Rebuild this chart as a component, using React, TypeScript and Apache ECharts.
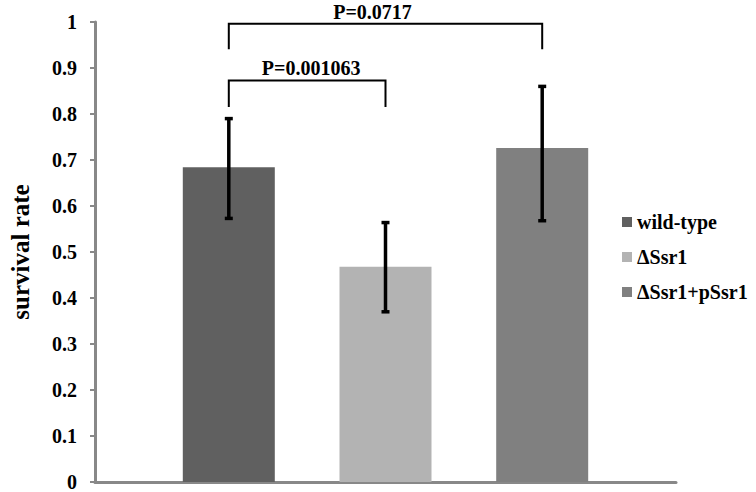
import React, { useEffect, useRef } from "react";
import * as echarts from "echarts";

const seriesNames = ["wild-type", "ΔSsr1", "ΔSsr1+pSsr1"];
const means = [0.684, 0.468, 0.726];
const errLow = [0.573, 0.37, 0.568];
const errHigh = [0.79, 0.564, 0.86];
const barColors = ["#606060", "#b3b3b3", "#808080"];
const yTicks = [0, 0.1, 0.2, 0.3, 0.4, 0.5, 0.6, 0.7, 0.8, 0.9, 1];
const pLabels = ["P=0.001063", "P=0.0717"];
const pPairs = [
  [0, 1],
  [0, 2],
];
const pLevels = [0.873, 0.996];
const pDrops = [0.815, 0.941];

const FONT = "Times New Roman, Liberation Serif, serif";
const BAR_W = 92;
const GAP = 64.7;
const STEP = BAR_W + GAP;
const LABEL_SHIFT = [4, -13];

export default function App() {
  const ref = useRef<HTMLDivElement>(null);
  useEffect(() => {
    if (!ref.current) return;
    const chart = echarts.init(ref.current, null, { renderer: "svg" });
    const barSeries = seriesNames.map((name, i) => ({
      name,
      type: "bar",
      data: [means[i]],
      barWidth: BAR_W,
      barGap: (GAP / BAR_W) * 100 + "%",
      itemStyle: { color: barColors[i] },
      z: 2,
    }));
    const errData = means.map((m, i) => [0, errLow[i], errHigh[i], i]);
    const bracketData = pPairs.map((p, k) => [0, pLevels[k], pDrops[k], p[0], p[1], k]);
    chart.setOption({
      animation: false,
      textStyle: { fontFamily: FONT },
      grid: { left: 88, right: 80, top: 22, bottom: 10, containLabel: false },
      legend: {
        data: seriesNames,
        orient: "vertical",
        left: 617,
        top: 207,
        itemWidth: 10,
        itemHeight: 10,
        itemGap: 15,
        icon: "rect",
        textStyle: { fontFamily: FONT, fontWeight: "bold", fontSize: 20, color: "#000" },
      },
      xAxis: {
        type: "category",
        data: [""],
        axisLine: { show: true, lineStyle: { color: "#888", width: 3 } },
        axisTick: { show: false },
        axisLabel: { show: false },
        splitLine: { show: false },
      },
      yAxis: {
        type: "value",
        min: yTicks[0],
        max: yTicks[yTicks.length - 1],
        interval: 0.1,
        name: "survival rate",
        nameLocation: "middle",
        nameGap: 62,
        nameTextStyle: { fontFamily: FONT, fontWeight: "bold", fontSize: 25, color: "#000" },
        axisLine: { show: true, lineStyle: { color: "#888", width: 3 } },
        axisTick: { show: true, length: 5, lineStyle: { color: "#888", width: 2 } },
        axisLabel: {
          fontFamily: FONT,
          fontWeight: "bold",
          fontSize: 20,
          color: "#000",
          margin: 18,
          formatter: (v: number) => String(Math.round(v * 10) / 10),
        },
        splitLine: { show: false },
      },
      series: [
        ...barSeries,
        {
          type: "custom",
          data: errData,
          encode: { x: 0, y: [1, 2] },
          z: 5,
          renderItem: (params: any, api: any) => {
            const lo = api.coord([api.value(0), api.value(1)]);
            const hi = api.coord([api.value(0), api.value(2)]);
            const x = lo[0] + (api.value(3) - 1) * STEP;
            const style = { stroke: "#000", lineWidth: 3.5 };
            return {
              type: "group",
              children: [
                { type: "line", shape: { x1: x, y1: lo[1], x2: x, y2: hi[1] }, style },
                { type: "line", shape: { x1: x - 4, y1: lo[1], x2: x + 4, y2: lo[1] }, style },
                { type: "line", shape: { x1: x - 4, y1: hi[1], x2: x + 4, y2: hi[1] }, style },
              ],
            };
          },
        },
        {
          type: "custom",
          data: bracketData,
          encode: { x: 0, y: [1, 2] },
          z: 6,
          renderItem: (params: any, api: any) => {
            const top = api.coord([api.value(0), api.value(1)]);
            const drop = api.coord([api.value(0), api.value(2)]);
            const x1 = top[0] + (api.value(3) - 1) * STEP;
            const x2 = top[0] + (api.value(4) - 1) * STEP;
            const k = api.value(5);
            return {
              type: "group",
              children: [
                {
                  type: "polyline",
                  shape: {
                    points: [
                      [x1, drop[1]],
                      [x1, top[1]],
                      [x2, top[1]],
                      [x2, drop[1]],
                    ],
                  },
                  style: { stroke: "#000", lineWidth: 2, fill: null },
                },
                {
                  type: "text",
                  x: (x1 + x2) / 2 + LABEL_SHIFT[k],
                  y: top[1] - 2,
                  style: {
                    text: pLabels[k],
                    align: "center",
                    verticalAlign: "bottom",
                    fontFamily: FONT,
                    fontWeight: "bold",
                    fontSize: 20,
                    fill: "#000",
                  },
                },
              ],
            };
          },
        },
      ],
    });
    return () => chart.dispose();
  }, []);
  return (
    <div
      ref={ref}
      style={{ position: "fixed", left: 0, top: 0, width: 756, height: 492, background: "#fff" }}
    />
  );
}
